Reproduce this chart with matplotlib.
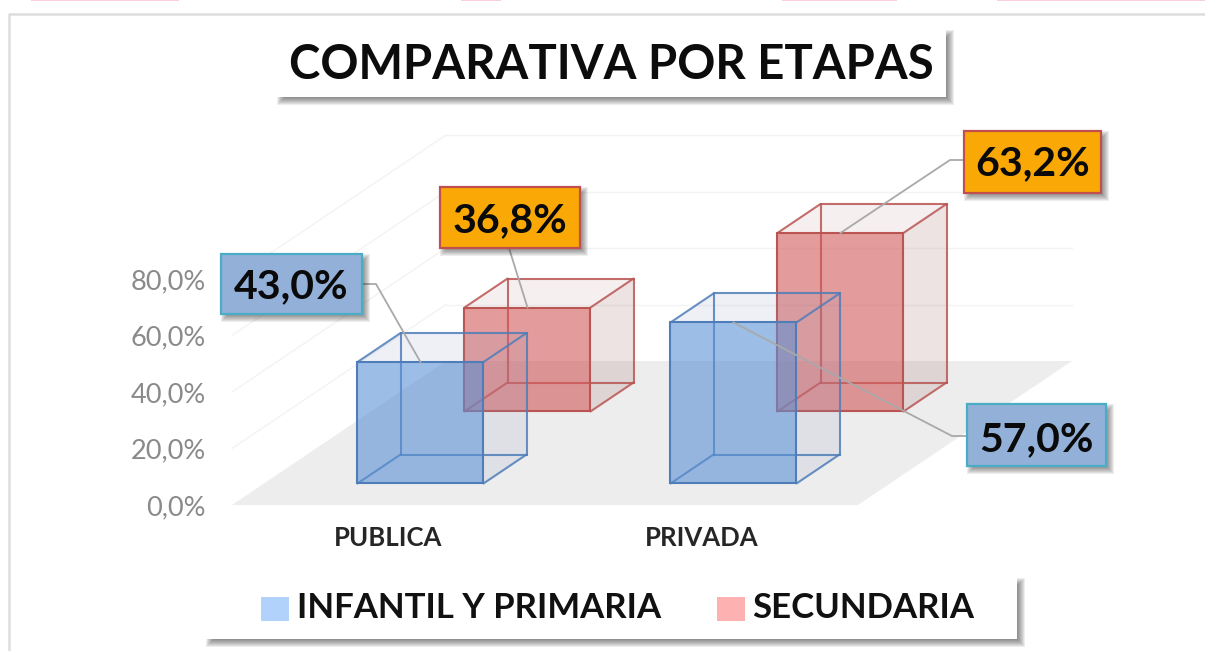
import matplotlib
matplotlib.use("Agg")
import matplotlib.pyplot as plt
from matplotlib.patches import Polygon, Rectangle
from matplotlib.ticker import FixedLocator, FixedFormatter

# ---- data ----
TITLE = "COMPARATIVA POR ETAPAS"
CATEGORIES = ["PUBLICA", "PRIVADA"]
SERIES_NAMES = ["INFANTIL Y PRIMARIA", "SECUNDARIA"]
INFANTIL = [43.0, 57.0]
SECUNDARIA = [36.8, 63.2]
Y_TICKS = [0, 20, 40, 60, 80]

FONT = "Lato"
W, H = 1205, 651
fig = plt.figure(figsize=(W / 100, H / 100), dpi=100, facecolor="white")

# main axes: category position / percentage, the plane at the front of the 3D box
ax = fig.add_axes([232 / W, (H - 505) / H, 626 / W, 226 / H])
ax.set_xlim(-0.5, 1.5)
ax.set_ylim(0, 80)
ax.patch.set_alpha(0)
for s in ax.spines.values():
    s.set_visible(False)
ax.yaxis.set_major_locator(FixedLocator(Y_TICKS))
ax.yaxis.set_major_formatter(FixedFormatter([f"{t:.1f}%".replace(".", ",") for t in Y_TICKS]))
ax.xaxis.set_major_locator(FixedLocator(range(len(CATEGORIES))))
ax.xaxis.set_major_formatter(FixedFormatter(CATEGORIES))
ax.tick_params(axis="y", length=0, pad=18.7, labelsize=19.5, labelcolor="#8a8a8a")
ax.tick_params(axis="x", length=0, pad=15, labelsize=18.5, labelcolor="#262626")
for t in ax.get_yticklabels():
    t.set_fontfamily(FONT)
for t in ax.get_xticklabels():
    t.set_fontfamily(FONT)
    t.set_fontweight("bold")

# oblique projection: depth slot d -> shift in category units and in value units
DX_PER_D = 107 / 313
DY_PER_D = 72 / 2.825
HALF = 0.2013
DEPTH = 2


def proj(x, v, d):
    return x + d * DX_PER_D, v + d * DY_PER_D


def poly(pts, **kw):
    ax.add_patch(Polygon([proj(*p) for p in pts], closed=True, clip_on=False, **kw))


def seg(a, b, **kw):
    (x0, y0), (x1, y1) = proj(*a), proj(*b)
    ax.plot([x0, x1], [y0, y1], clip_on=False, solid_capstyle="round", **kw)


# floor
poly([(-0.5, 0, 0), (1.5, 0, 0), (1.5, 0, DEPTH), (-0.5, 0, DEPTH)], fc="#ededed", ec="none", zorder=1)
# grid on left and back walls
for t in Y_TICKS[1:]:
    seg((-0.5, t, 0), (-0.5, t, DEPTH), color="#f3f3f3", lw=1, zorder=1)
    seg((-0.5, t, DEPTH), (1.5, t, DEPTH), color="#f3f3f3", lw=1, zorder=1)


def box(x, v, dc, front, edge, top_fc, side_fc, z):
    x0, x1 = x - HALF, x + HALF
    d0, d1 = dc - HALF, dc + HALF
    poly([(x1, 0, d0), (x1, 0, d1), (x1, v, d1), (x1, v, d0)], fc=side_fc[0], alpha=side_fc[1], ec="none", zorder=z)
    poly([(x0, v, d0), (x1, v, d0), (x1, v, d1), (x0, v, d1)], fc=top_fc[0], alpha=top_fc[1], ec="none", zorder=z)
    back = dict(color=edge, lw=1.5, alpha=0.85, zorder=z + 0.1)
    seg((x0, 0, d1), (x1, 0, d1), **back)
    seg((x0, v, d1), (x1, v, d1), **back)
    seg((x0, 0, d1), (x0, v, d1), **back)
    seg((x1, 0, d1), (x1, v, d1), **back)
    seg((x0, 0, d0), (x0, 0, d1), **back)
    seg((x1, 0, d0), (x1, 0, d1), **back)
    seg((x0, v, d0), (x0, v, d1), **back)
    seg((x1, v, d0), (x1, v, d1), **back)
    poly([(x0, 0, d0), (x1, 0, d0), (x1, v, d0), (x0, v, d0)], fc=front, alpha=0.6, ec="none", zorder=z + 0.2)
    edges = dict(color=edge, lw=1.5, zorder=z + 0.3)
    seg((x0, 0, d0), (x1, 0, d0), **edges)
    seg((x1, 0, d0), (x1, v, d0), **edges)
    seg((x1, v, d0), (x0, v, d0), **edges)
    seg((x0, v, d0), (x0, 0, d0), **edges)


for i, v in enumerate(SECUNDARIA):
    box(i, v, 1.5, "#d25858", "#b95553", ("#bc9494", 0.15), ("#a57373", 0.2), 3)
for i, v in enumerate(INFANTIL):
    box(i, v, 0.5, "#5a91d4", "#4f7db9", ("#8e9bc3", 0.15), ("#8e9bc3", 0.15), 5)

# overlay in pixel coordinates for frame, title, callouts, legend
ov = fig.add_axes([0, 0, 1, 1], zorder=10)
ov.set_xlim(0, W)
ov.set_ylim(H, 0)
ov.axis("off")


def to_ov(xy):
    return ov.transData.inverted().transform(ax.transData.transform(xy))


# cropped page furniture: pink strips and the chart frame
for a, b in [(31, 179), (461, 501), (782, 897), (997, 1205)]:
    ov.add_patch(Rectangle((a, -1), b - a, 2.2, fc="#fbd0dc", ec="none"))
ov.plot([8.5, 8.5, W], [H, 13.5, 13.5], color="#dddddd", lw=1.8)


def shadow(x0, y0, x1, y1, dx=4, dy=4, z=11):
    for grow in [4, 3, 2, 1, 0, -1, -2, -3]:
        ov.add_patch(Rectangle((x0 + dx - grow, y0 + dy - grow), x1 - x0 + 2 * grow, y1 - y0 + 2 * grow,
                               fc="#303030", ec="none", alpha=0.085, zorder=z))


def panel(x0, y0, x1, y1, fc, ec, lw=1.6, z=12):
    shadow(x0, y0, x1, y1, z=z - 1)
    ov.add_patch(Rectangle((x0, y0), x1 - x0, y1 - y0, fc=fc, ec=ec, lw=lw, zorder=z))


# title
panel(277, 30, 946, 97, "white", "none", 0)
ov.text(611, 79, TITLE, fontsize=34, fontweight="bold", family=FONT, color="#0c0c0c",
        ha="center", va="baseline", zorder=13)

# callouts: leader path and box
LEADER = dict(color="#a9a9a9", lw=1.3, zorder=9)


def callout(label, box_xy, base, elbow, target, fc, ec):
    x0, y0, x1, y1 = box_xy
    tx, ty = to_ov(target)
    xs = [e[0] for e in elbow] + [tx]
    ys = [e[1] for e in elbow] + [ty]
    ov.plot(xs, ys, **LEADER)
    panel(x0, y0, x1, y1, fc, ec)
    ov.text((x0 + x1) / 2, base, label, fontsize=29.5, fontweight="bold", family=FONT,
            color="#0a0a0a", ha="center", va="baseline", zorder=13)


def fmt(v):
    return f"{v:.1f}%".replace(".", ",")


BLUE_FC, BLUE_EC = "#93b1d8", "#4bacc6"
ORANGE_FC, RED_EC = "#f9a806", "#c0504d"
d_front_a = 0.5 - HALF
d_front_b = 1.5 - HALF
callout(fmt(INFANTIL[0]), (221, 254, 362, 314), 298, [(362, 284), (376, 284)], proj(0, INFANTIL[0], d_front_a), BLUE_FC, BLUE_EC)
callout(fmt(SECUNDARIA[0]), (440, 187, 580, 248), 232, [(509, 248)], proj(0, SECUNDARIA[0], d_front_b), ORANGE_FC, RED_EC)
callout(fmt(SECUNDARIA[1]), (964, 131, 1101, 193), 175, [(964, 160), (950, 160)], proj(1, SECUNDARIA[1], d_front_b), ORANGE_FC, RED_EC)
callout(fmt(INFANTIL[1]), (967, 404, 1106, 466), 451, [(967, 436), (952, 436)], proj(1, INFANTIL[1], d_front_a), BLUE_FC, BLUE_EC)

# legend
panel(206, 578, 1017, 639, "white", "none", 0)
LEG_BASE = 618
for (sx, tx, name, col) in [(261, 297, SERIES_NAMES[0], "#b1d3fb"), (716.5, 752, SERIES_NAMES[1], "#fdb1b1")]:
    ov.add_patch(Rectangle((sx, 597), 28, 24, fc=col, ec="none", zorder=13))
    ov.text(tx, LEG_BASE, name, fontsize=25, fontweight="bold", family=FONT, color="#111111",
            ha="left", va="baseline", zorder=13)

fig.savefig("out.png", dpi=100)
